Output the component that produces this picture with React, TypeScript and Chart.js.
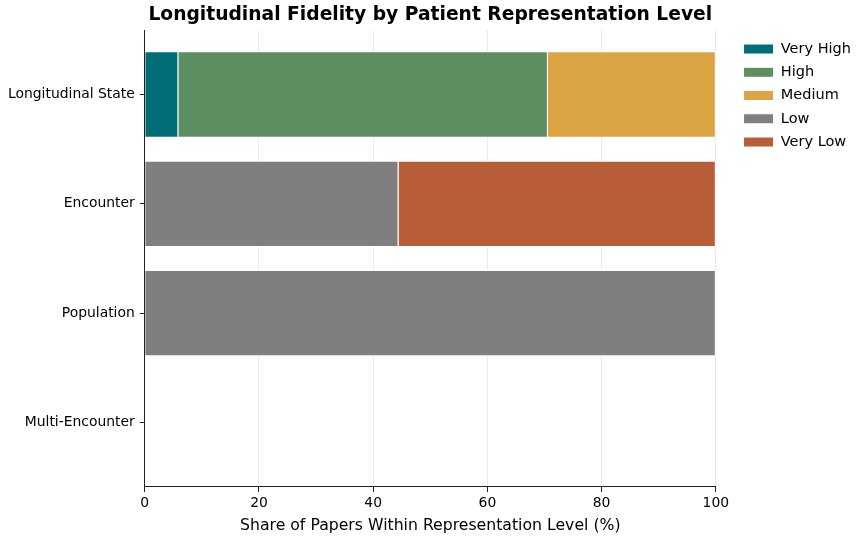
import React, { useEffect, useRef } from "react";
import { Chart, registerables } from "chart.js";

Chart.register(...registerables);

// ---- data ----
const categories = ["Longitudinal State", "Encounter", "Population", "Multi-Encounter"];
const seriesNames = ["Very High", "High", "Medium", "Low", "Very Low"];
const veryHigh: (number | null)[] = [5.88, null, null, null];
const high: (number | null)[] = [64.71, null, null, null];
const medium: (number | null)[] = [29.41, null, null, null];
const low: (number | null)[] = [null, 44.44, 100, null];
const veryLow: (number | null)[] = [null, 55.56, null, null];
const xTicks = [0, 20, 40, 60, 80, 100];
const colors = ["#006e76", "#5e8f63", "#dca543", "#7f7f7f", "#b95c38"];

const FONT = "'DejaVu Sans', sans-serif";

const legendNudge = {
  id: "legendNudge",
  afterLayout(chart: any) {
    const l = chart.legend;
    if (!l) return;
    l.left += 19;
    l.right += 19;
    l.top += 3;
    l.bottom += 3;
  },
};

export default function App() {
  const ref = useRef<HTMLCanvasElement | null>(null);

  useEffect(() => {
    if (!ref.current) return;
    const series = [veryHigh, high, medium, low, veryLow];
    const datasets = series.map((arr, k) => ({
      label: seriesNames[k],
      data: categories
        .map((_, i) => ({ x: arr[i], y: i }))
        .filter((p) => p.x !== null),
      backgroundColor: colors[k],
      borderColor: "#ffffff",
      borderWidth: 1,
      inflateAmount: 0,
      barPercentage: 0.79,
      categoryPercentage: 1,
    }));

    const chart = new Chart(ref.current, {
      type: "bar",
      data: { datasets: datasets as any },
      options: {
        indexAxis: "y",
        animation: false,
        responsive: true,
        maintainAspectRatio: false,
        layout: { padding: { left: 3, right: 24, top: 0, bottom: 2.5 } },
        scales: {
          x: {
            type: "linear",
            min: 0,
            max: 100,
            stacked: true,
            offset: false,
            afterBuildTicks: (s: any) => {
              s.ticks = xTicks.map((v) => ({ value: v }));
            },
            grid: {
              offset: false,
              color: (c: any) => (c.tick && c.tick.value === 0 ? "rgba(0,0,0,0)" : "#ebebeb"),
              tickColor: "#222",
              tickLength: 5,
              lineWidth: 1,
            },
            border: { color: "#222", width: 1 },
            ticks: { color: "#000", font: { family: FONT, size: 13.9 }, padding: 3, maxRotation: 0 },
            title: {
              display: true,
              text: "Share of Papers Within Representation Level (%)",
              color: "#000",
              font: { family: FONT, size: 15.7 },
              padding: { top: 2, bottom: 2 },
            },
          },
          y: {
            type: "linear",
            min: -0.59,
            max: 3.59,
            reverse: true,
            stacked: true,
            offset: false,
            z: 1,
            afterBuildTicks: (s: any) => {
              s.ticks = categories.map((_, i) => ({ value: i }));
            },
            grid: { offset: false, drawOnChartArea: false, tickLength: 5, tickColor: "#222" },
            border: { color: "#222", width: 1 },
            ticks: {
              color: "#000",
              font: { family: FONT, size: 13.9 },
              padding: 5,
              autoSkip: false,
              callback: (v: any) => categories[v as number] ?? "",
            },
          },
        },
        plugins: {
          title: {
            display: true,
            text: "Longitudinal Fidelity by Patient Representation Level",
            color: "#000",
            fullSize: false,
            font: { family: FONT, size: 18.7, weight: "bold" },
            padding: { top: 3.6, bottom: 4 },
          },
          legend: {
            position: "right",
            align: "start",
            fullSize: false,
            labels: {
              boxWidth: 30,
              boxHeight: 10,
              color: "#000",
              padding: 8.75,
              font: { family: FONT, size: 14.5 },
            },
          },
          tooltip: { enabled: false },
        },
      },
      plugins: [legendNudge],
    });
    return () => chart.destroy();
  }, []);

  return (
    <div style={{ position: "fixed", left: 0, top: 0, width: 866, height: 540, background: "#fff" }}>
      <canvas ref={ref} />
    </div>
  );
}
